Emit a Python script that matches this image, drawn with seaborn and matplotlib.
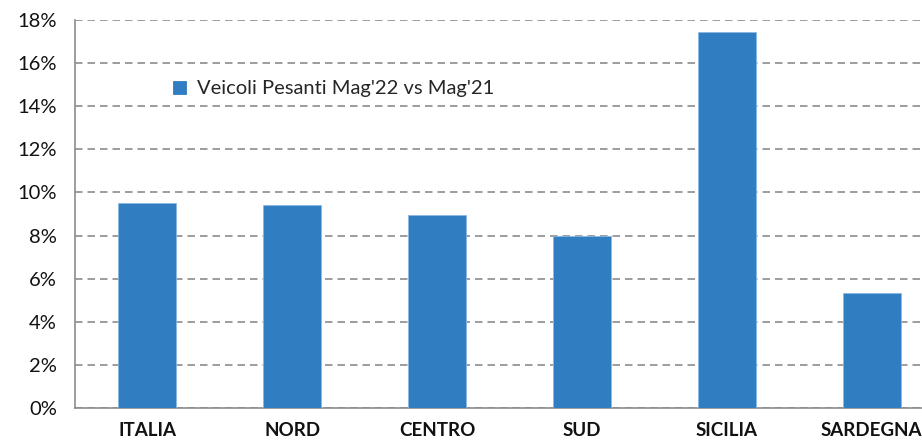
import numpy as np
import pandas as pd
import matplotlib
matplotlib.use("Agg")
import matplotlib.pyplot as plt
import seaborn as sns

# -------------------------
# Data
# -------------------------
categories = ["ITALIA", "NORD", "CENTRO", "SUD", "SICILIA", "SARDEGNA"]
values = [9.53, 9.44, 8.96, 8.00, 17.46, 5.33]
series_name = "Veicoli Pesanti Mag'22 vs Mag'21"
y_ticks = [0, 2, 4, 6, 8, 10, 12, 14, 16, 18]

df = pd.DataFrame({"zona": categories, "valore": values, "serie": series_name})

sns.set_style("white")
plt.rcParams["font.family"] = ["Lato", "DejaVu Sans"]

bar_color = "#317DC2"
grid_color = "#8c8c8c"
text_color = "#111111"

fig = plt.figure(figsize=(9.22, 4.40), dpi=100)
# axes runs past the right edge, as in the reference (last bar is cut)
ax = fig.add_axes([75 / 922, 32 / 440, 869 / 922, 388 / 440])

sns.barplot(data=df, x="zona", y="valore", hue="serie", palette=[bar_color],
            saturation=1, width=0.4, edgecolor="#8ab8e6", linewidth=0.6,
            ax=ax, zorder=3)

ax.set_ylim(0, 18)
ax.set_xlim(-0.5, len(categories) - 0.5)
ax.set_yticks(y_ticks)
ax.set_yticklabels([f"{t}%" for t in y_ticks], fontsize=14.5, color=text_color)
ax.set_xlabel("")
ax.set_ylabel("")

# horizontal dashed grid
ax.yaxis.grid(True, linestyle=(0, (4.5, 3)), color=grid_color, linewidth=1.2, zorder=0)
ax.xaxis.grid(False)
ax.set_axisbelow(True)

# category labels, bold, no tick marks at centres
ax.tick_params(axis="x", which="major", length=0, pad=10)
for lbl in ax.get_xticklabels():
    lbl.set_fontweight("bold")
    lbl.set_fontsize(13.5)
    lbl.set_color(text_color)

# tick marks between categories
ax.set_xticks(np.arange(-0.5, len(categories), 1), minor=True)
ax.tick_params(axis="x", which="minor", length=5, width=1, color=grid_color)
ax.tick_params(axis="y", length=5, width=1, color=grid_color, pad=8)

for side in ["top", "right"]:
    ax.spines[side].set_visible(False)
for side in ["left", "bottom"]:
    ax.spines[side].set_color(grid_color)
    ax.spines[side].set_linewidth(1.2)

leg = ax.legend(loc="upper left", bbox_to_anchor=(0.104, 0.865), frameon=False,
                fontsize=14.5, handlelength=0.6, handleheight=0.6,
                handletextpad=0.55, borderaxespad=0)
for h in leg.legend_handles:
    h.set_edgecolor(bar_color)

fig.savefig("out.png", dpi=100)
